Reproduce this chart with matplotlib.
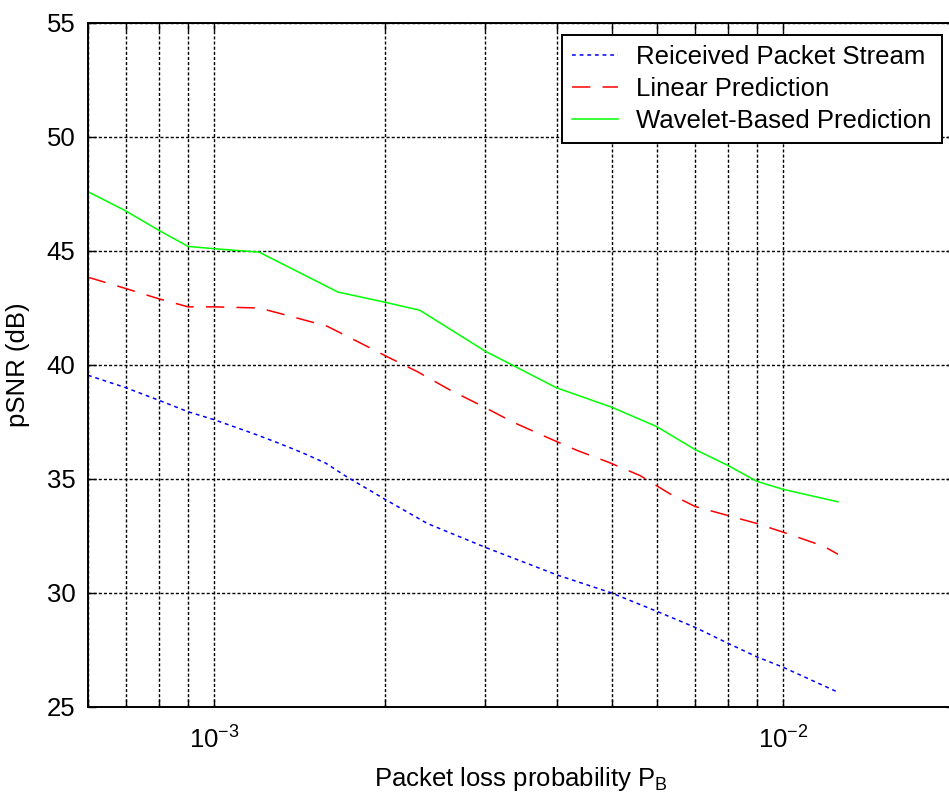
import matplotlib
matplotlib.use("Agg")
import matplotlib.pyplot as plt
from matplotlib.ticker import LogLocator, NullFormatter

plt.rcParams["font.family"] = ["Liberation Sans", "DejaVu Sans"]
plt.rcParams["mathtext.fontset"] = "custom"
plt.rcParams["mathtext.rm"] = "Liberation Sans"
plt.rcParams["axes.unicode_minus"] = False

# Dados
pb_recebido = [6e-4, 7e-4, 8e-4, 9e-4, 1e-3, 1.17e-3, 1.29e-3, 1.43e-3, 1.57e-3,
               1.71e-3, 2.0e-3, 2.37e-3, 3.0e-3, 4.0e-3, 5.0e-3, 6.0e-3, 7.0e-3,
               8.0e-3, 9.0e-3, 1.0e-2, 1.25e-2]
psnr_recebido = [39.55, 39.0, 38.45, 37.95, 37.6, 37.0, 36.6, 36.15, 35.7,
                 35.1, 34.1, 33.05, 32.0, 30.8, 30.0, 29.2, 28.5,
                 27.8, 27.2, 26.75, 25.65]

pb_linear = [6e-4, 7e-4, 8e-4, 9e-4, 1e-3, 1.2e-3, 1.38e-3, 1.58e-3, 1.78e-3,
             2.02e-3, 2.28e-3, 2.6e-3, 2.96e-3, 3.35e-3, 3.79e-3, 4.35e-3,
             4.92e-3, 5.61e-3, 6.33e-3, 7.0e-3, 8.0e-3, 9.0e-3, 1.02e-2,
             1.18e-2, 1.25e-2]
psnr_linear = [43.85, 43.35, 42.9, 42.55, 42.55, 42.5, 42.1, 41.7, 41.05,
               40.35, 39.7, 38.9, 38.2, 37.5, 36.9, 36.25,
               35.75, 35.15, 34.35, 33.8, 33.4, 33.05, 32.6,
               32.05, 31.7]

pb_wavelet = [6e-4, 7e-4, 8e-4, 9e-4, 1e-3, 1.2e-3, 1.65e-3, 2.0e-3, 2.3e-3,
              3.0e-3, 4.0e-3, 5.0e-3, 6.0e-3, 7.0e-3, 8.0e-3, 9.0e-3, 1.0e-2,
              1.25e-2]
psnr_wavelet = [47.6, 46.75, 45.9, 45.2, 45.1, 44.95, 43.2, 42.75, 42.4,
                40.6, 39.0, 38.15, 37.3, 36.3, 35.6, 34.9, 34.55,
                34.0]

fs = 18.5

fig = plt.figure(figsize=(9.49, 7.99), dpi=100)
ax = fig.add_axes([88 / 949, 1 - 707 / 799, 866 / 949, 684 / 799])

ax.plot(pb_recebido, psnr_recebido, color=(0, 0, 1), linewidth=1.1,
        linestyle=(0, (2.5, 2.5)), label="Reiceived Packet Stream")
ax.plot(pb_linear, psnr_linear, color=(1, 0, 0), linewidth=1.1,
        linestyle=(0, (12, 8)), label="Linear Prediction")
ax.plot(pb_wavelet, psnr_wavelet, color=(0, 1, 0), linewidth=1.1,
        linestyle="-", label="Wavelet-Based Prediction")

ax.set_xscale("log")
ax.set_xlim(6e-4, 2e-2)
ax.set_ylim(25, 55)
ax.set_yticks([25, 30, 35, 40, 45, 50, 55])
ax.xaxis.set_major_locator(LogLocator(base=10, subs=(1.0,)))
ax.xaxis.set_minor_locator(LogLocator(base=10, subs=range(2, 10)))
ax.xaxis.set_minor_formatter(NullFormatter())

ax.tick_params(which="both", direction="in", top=True, right=True,
               length=6, width=1.0, labelsize=fs)
ax.tick_params(axis="y", pad=9)
ax.tick_params(axis="x", which="both", pad=14)
for s in ax.spines.values():
    s.set_linewidth(1.4)

grid_style = dict(color="black", linewidth=1.0, linestyle=(0, (2.2, 1.5)))
ax.grid(True, which="both", axis="x", **grid_style)
ax.grid(True, which="major", axis="y", **grid_style)

ax.set_xlabel("Packet loss probability P$_\\mathregular{B}$", fontsize=fs, labelpad=8)
ax.set_ylabel("pSNR (dB)", fontsize=fs, labelpad=12)

leg = ax.legend(loc="upper right", bbox_to_anchor=(942 / 949, 1 - 35 / 799),
                bbox_transform=fig.transFigure, fontsize=fs, fancybox=False,
                edgecolor="black", framealpha=1, borderaxespad=0,
                handlelength=1.8, handletextpad=0.7, labelspacing=0.3,
                borderpad=0.4)
leg.get_frame().set_linewidth(1.4)

plt.savefig("out.png", dpi=100)
plt.close()
